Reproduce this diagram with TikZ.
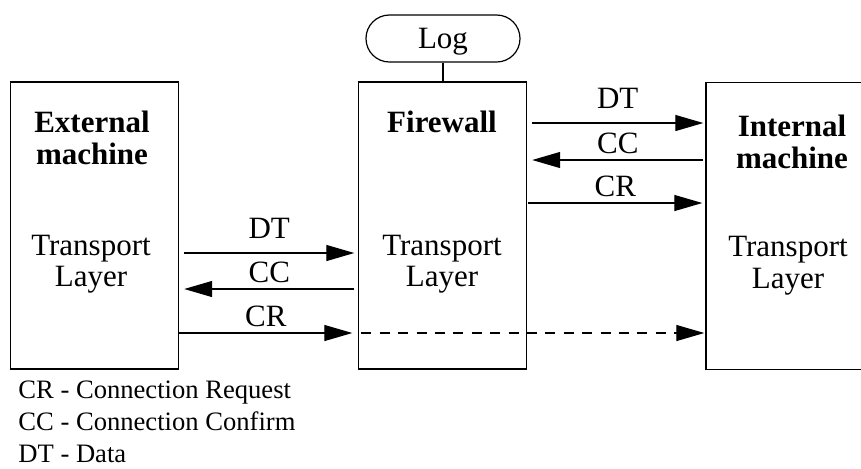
\documentclass[tikz,border=0pt]{standalone}
\usepackage{fontspec}
\setmainfont{Liberation Serif}
\usetikzlibrary{arrows.meta}
\usetikzlibrary{calc}
\usetikzlibrary{positioning}

\begin{document}
\begin{tikzpicture}[x=0.5pt,y=-0.5pt,
  every node/.style={font=\fontsize{15.5}{15.75}\selectfont},
  machine/.style={draw,line width=0.7pt,minimum width=84pt,minimum height=143.5pt,inner sep=0pt},
  msg/.style={line width=0.6pt,-{Triangle[length=14pt,width=8pt]}},
  lbl/.style={above=3pt,inner sep=0pt},
  title/.style={align=center,inner sep=0pt,font=\fontsize{15.5}{15.75}\selectfont\bfseries},
  layer/.style={align=center,anchor=north,inner sep=0pt}]
\useasboundingbox (0,0) rectangle (861,468);
\clip (0,0) rectangle (861,468);
% the three machines
\node[machine] (ext) at (94.5,225.5) {};
\node[machine] (fw) at (442.5,225.5) {};
\node[machine] (int) at (790,226) {};
\node[title,anchor=north] (extname) at (92,111) {External\\machine};
\node[title,anchor=base] (fwname) at (442,132) {Firewall};
\node[title,anchor=north] (intname) at (792,115) {Internal\\machine};
\node[layer] (extlayer) at (91,234.5) {Transport\\Layer};
\node[layer] (fwlayer) at (442,234.5) {Transport\\Layer};
\node[layer] (intlayer) at (788,236) {Transport\\Layer};
% log
\node[draw,line width=0.6pt,rounded corners=11.7pt,minimum width=77pt,minimum height=23.5pt,text depth=0pt,inner sep=0pt] (log) at (443,38.5) {Log};
\draw[line width=0.6pt] (log.south) -- (log.south |- fw.north);
% external <-> firewall
\draw[msg] ($(ext.east)+(5,27.5)$) -- node[above=7pt,inner sep=0pt]{DT} ($(fw.west)+(-3.5,27.5)$);
\draw[msg] ($(fw.west)+(-3.5,63.5)$) -- node[lbl]{CC} ($(ext.east)+(5,63.5)$);
\draw[msg] ($(ext.east)+(0,107.5)$) -- node[lbl]{CR} ($(fw.west)+(-5.5,107.5)$);
\draw[msg,dash pattern=on 5pt off 4.2pt] ($(fw.west)+(3.5,107.5)$) -- ($(int.west)+(-1,107)$);
% firewall <-> internal
\draw[msg] ($(fw.east)+(5,-102.5)$) -- node[above=7pt,inner sep=0pt]{DT} ($(int.west)+(-2,-103)$);
\draw[msg] ($(int.west)+(-2,-66)$) -- node[lbl]{CC} ($(fw.east)+(5,-65.5)$);
\draw[msg] ($(fw.east)+(1,-22.5)$) -- node[lbl]{CR} ($(int.west)+(-3,-23)$);
% legend
\node[anchor=north west,align=left,inner sep=0pt,font=\fontsize{13.3}{16}\selectfont] (legend) at (18,380) {CR - Connection Request\\CC - Connection Confirm\\DT - Data};
\end{tikzpicture}
\end{document}
